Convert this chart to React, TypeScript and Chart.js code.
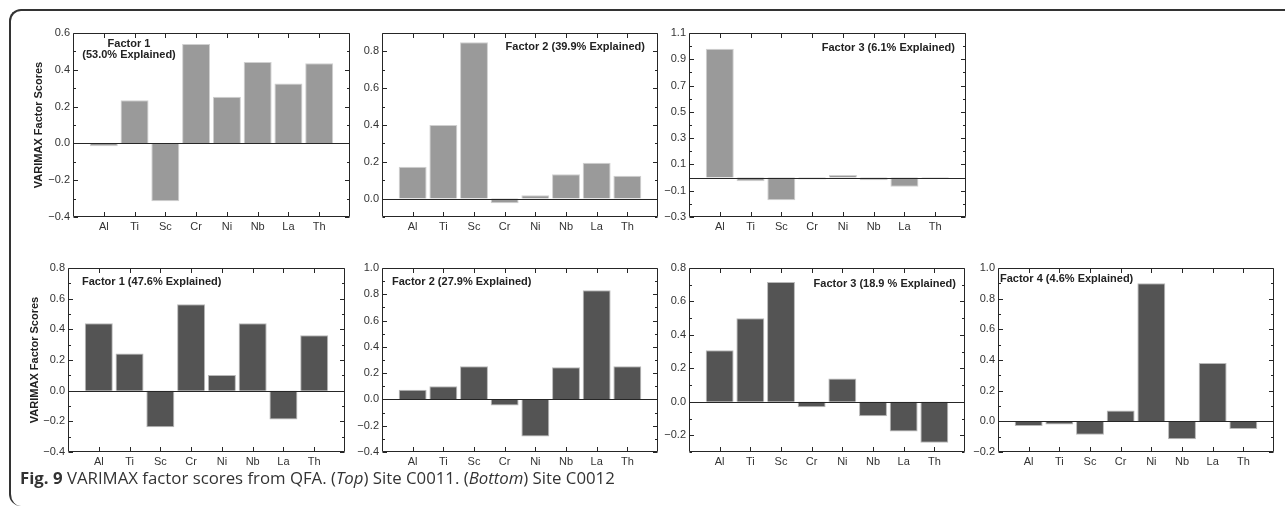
import React, { useEffect, useRef } from 'react';
import { Chart, registerables } from 'chart.js';

Chart.register(...registerables);

// ---------- data ----------
const categories = ['Al', 'Ti', 'Sc', 'Cr', 'Ni', 'Nb', 'La', 'Th'];

// Site C0011 (top row)
const siteC0011Factor1 = [-0.015, 0.235, -0.315, 0.54, 0.253, 0.443, 0.326, 0.435];
const siteC0011Factor2 = [0.173, 0.4, 0.85, -0.025, 0.018, 0.133, 0.195, 0.124];
const siteC0011Factor3 = [0.98, -0.028, -0.173, -0.015, 0.02, -0.02, -0.07, -0.005];

// Site C0012 (bottom row)
const siteC0012Factor1 = [0.44, 0.243, -0.238, 0.563, 0.102, 0.44, -0.188, 0.362];
const siteC0012Factor2 = [0.073, 0.1, 0.253, -0.046, -0.283, 0.245, 0.83, 0.253];
const siteC0012Factor3 = [0.308, 0.5, 0.716, -0.032, 0.139, -0.086, -0.177, -0.245];
const siteC0012Factor4 = [-0.03, -0.02, -0.087, 0.07, 0.9, -0.117, 0.38, -0.05];

// labelled y ticks
const yTicksC0011F1 = [-0.4, -0.2, 0.0, 0.2, 0.4, 0.6];
const yTicksC0011F2 = [0.0, 0.2, 0.4, 0.6, 0.8];
const yTicksC0011F3 = [-0.3, -0.1, 0.1, 0.3, 0.5, 0.7, 0.9, 1.1];
const yTicksC0012F1 = [-0.4, -0.2, 0.0, 0.2, 0.4, 0.6, 0.8];
const yTicksC0012F2 = [-0.4, -0.2, 0.0, 0.2, 0.4, 0.6, 0.8, 1.0];
const yTicksC0012F3 = [-0.2, 0.0, 0.2, 0.4, 0.6, 0.8];
const yTicksC0012F4 = [-0.2, 0.0, 0.2, 0.4, 0.6, 0.8, 1.0];

const yAxisTitle = 'VARIMAX Factor Scores';

// ---------- layout / style ----------
const FONT = '"Liberation Sans", Arial, Helvetica, sans-serif';
const PAD_L = 55;
const PAD_T = 12;
const PAD_R = 8;
const PAD_B = 26;

const TOP_FILL = '#9a9a9a';
const TOP_EDGE = '#d0d0d0';
const BOT_FILL = '#545454';
const BOT_EDGE = '#b8b8b8';

type Panel = {
  values: number[];
  ticks: number[];
  min: number;
  max: number;
  box: [number, number, number, number];
  fill: string;
  edge: string;
  yTitle: boolean;
  titlePad: number;
  note: string[];
  noteAlign: 'left' | 'right' | 'center';
  noteX: number;
  noteY: number;
};

const panels: Panel[] = [
  { values: siteC0011Factor1, ticks: yTicksC0011F1, min: -0.4, max: 0.6, box: [73, 33, 350, 217], fill: TOP_FILL, edge: TOP_EDGE, yTitle: true, titlePad: 14.4, note: ['Factor 1', '(53.0% Explained)'], noteAlign: 'center', noteX: 56, noteY: 11 },
  { values: siteC0011Factor2, ticks: yTicksC0011F2, min: -0.1, max: 0.9, box: [382, 33, 658, 217], fill: TOP_FILL, edge: TOP_EDGE, yTitle: false, titlePad: 0, note: ['Factor 2 (39.9% Explained)'], noteAlign: 'right', noteX: 13, noteY: 14 },
  { values: siteC0011Factor3, ticks: yTicksC0011F3, min: -0.3, max: 1.1, box: [689, 33, 966, 217], fill: TOP_FILL, edge: TOP_EDGE, yTitle: false, titlePad: 0, note: ['Factor 3 (6.1% Explained)'], noteAlign: 'right', noteX: 11, noteY: 15 },
  { values: siteC0012Factor1, ticks: yTicksC0012F1, min: -0.4, max: 0.8, box: [68, 268, 345, 452], fill: BOT_FILL, edge: BOT_EDGE, yTitle: true, titlePad: 15.4, note: ['Factor 1 (47.6% Explained)'], noteAlign: 'left', noteX: 14, noteY: 14 },
  { values: siteC0012Factor2, ticks: yTicksC0012F2, min: -0.4, max: 1.0, box: [382, 268, 658, 452], fill: BOT_FILL, edge: BOT_EDGE, yTitle: false, titlePad: 0, note: ['Factor 2 (27.9% Explained)'], noteAlign: 'left', noteX: 10, noteY: 14 },
  { values: siteC0012Factor3, ticks: yTicksC0012F3, min: -0.3, max: 0.8, box: [689, 268, 965, 452], fill: BOT_FILL, edge: BOT_EDGE, yTitle: false, titlePad: 0, note: ['Factor 3 (18.9 % Explained)'], noteAlign: 'right', noteX: 9, noteY: 16 },
  { values: siteC0012Factor4, ticks: yTicksC0012F4, min: -0.2, max: 1.0, box: [998, 268, 1274, 452], fill: BOT_FILL, edge: BOT_EDGE, yTitle: false, titlePad: 0, note: ['Factor 4 (4.6% Explained)'], noteAlign: 'left', noteX: 2, noteY: 11 },
];

const fmt = (v: number) => {
  const s = Math.abs(v).toFixed(1);
  return v < -1e-9 ? '\u2212' + s : s;
};

function makeFramePlugin(cfg: Panel) {
  return {
    id: 'frameTicks',
    afterDatasetsDraw(chart: any) {
      const { ctx, chartArea } = chart;
      const xs = chart.scales.x;
      const ys = chart.scales.y;
      const left = Math.round(chartArea.left) + 0.5;
      const right = Math.round(chartArea.right) - 0.5;
      const top = Math.round(chartArea.top) + 0.5;
      const bottom = Math.round(chartArea.bottom) - 0.5;
      ctx.save();
      ctx.strokeStyle = '#262626';
      ctx.lineWidth = 1;
      // zero line
      const y0 = Math.round(ys.getPixelForValue(0)) + 0.5;
      ctx.beginPath();
      ctx.moveTo(left, y0);
      ctx.lineTo(right, y0);
      ctx.stroke();
      // frame
      ctx.beginPath();
      ctx.rect(left, top, right - left, bottom - top);
      ctx.stroke();
      // y ticks (major at labelled ticks, minor every 0.1)
      const k0 = Math.round(cfg.min * 10);
      const k1 = Math.round(cfg.max * 10);
      ctx.beginPath();
      for (let k = k0; k <= k1; k++) {
        const v = k / 10;
        const major = cfg.ticks.some((t) => Math.abs(t - v) < 1e-6);
        const len = major ? 4.5 : 2.5;
        const p = Math.round(ys.getPixelForValue(v)) + 0.5;
        ctx.moveTo(left, p);
        ctx.lineTo(left + len, p);
        ctx.moveTo(right, p);
        ctx.lineTo(right - len, p);
      }
      // x ticks at categories
      categories.forEach((_, i) => {
        const p = Math.round(xs.getPixelForValue(i + 1)) + 0.5;
        ctx.moveTo(p, top);
        ctx.lineTo(p, top + 4.5);
        ctx.moveTo(p, bottom);
        ctx.lineTo(p, bottom - 4.5);
      });
      ctx.stroke();
      // annotation
      ctx.fillStyle = '#222';
      ctx.font = `bold 11px ${FONT}`;
      ctx.textBaseline = 'middle';
      ctx.textAlign = cfg.noteAlign;
      const nx =
        cfg.noteAlign === 'right'
          ? chartArea.right - cfg.noteX
          : chartArea.left + cfg.noteX;
      cfg.note.forEach((line, i) => {
        ctx.fillText(line, nx, chartArea.top + cfg.noteY + i * 11);
      });
      ctx.restore();
    },
  };
}

function PanelChart({ cfg }: { cfg: Panel }) {
  const ref = useRef<HTMLCanvasElement>(null);
  const [L, T, R, B] = cfg.box;
  const cw = R - L + PAD_L + PAD_R;
  const ch = B - T + PAD_T + PAD_B;

  useEffect(() => {
    const data = categories.map((c, i) => ({ x: i + 1, y: cfg.values[i] }));
    const chart = new Chart(ref.current as HTMLCanvasElement, {
      type: 'bar',
      data: {
        datasets: [
          {
            data: data as any,
            backgroundColor: cfg.fill,
            borderColor: cfg.edge,
            borderWidth: 1,
            categoryPercentage: 1,
            barPercentage: 0.91,
          },
        ],
      },
      options: {
        animation: false,
        responsive: false,
        devicePixelRatio: 1,
        layout: { padding: { top: PAD_T, right: PAD_R, left: 0, bottom: 0 } },
        plugins: { legend: { display: false }, tooltip: { enabled: false } },
        scales: {
          x: {
            type: 'linear',
            min: 0,
            max: 9,
            offset: false,
            afterBuildTicks: (s: any) => {
              s.ticks = categories.map((_, i) => ({ value: i + 1 }));
            },
            afterFit: (s: any) => {
              s.height = PAD_B;
            },
            grid: { display: false, drawTicks: false },
            border: { display: false },
            ticks: {
              autoSkip: false,
              maxRotation: 0,
              padding: 3,
              color: '#333',
              font: { family: FONT, size: 11 },
              callback: (v: any) => categories[Math.round(Number(v)) - 1] ?? '',
            },
          },
          y: {
            type: 'linear',
            min: cfg.min,
            max: cfg.max,
            afterBuildTicks: (s: any) => {
              s.ticks = cfg.ticks.map((v) => ({ value: v }));
            },
            afterFit: (s: any) => {
              s.width = PAD_L;
            },
            grid: { display: false, drawTicks: false },
            border: { display: false },
            ticks: {
              autoSkip: false,
              padding: 3,
              color: '#333',
              font: { family: FONT, size: 11 },
              callback: (v: any) => fmt(Number(v)),
            },
            title: {
              display: cfg.yTitle,
              text: yAxisTitle,
              color: '#222',
              font: { family: FONT, size: 11, weight: 'bold' },
              padding: { top: cfg.titlePad, bottom: 0 },
            },
          },
        },
      },
      plugins: [makeFramePlugin(cfg)],
    } as any);
    return () => chart.destroy();
  }, []);

  return (
    <canvas
      ref={ref}
      width={cw}
      height={ch}
      style={{ position: 'absolute', left: L - PAD_L, top: T - PAD_T, width: cw, height: ch }}
    />
  );
}

export default function App() {
  return (
    <div style={{ position: 'absolute', left: 0, top: 0, width: 1285, height: 508, overflow: 'hidden', background: '#fff' }}>
      <div
        style={{
          position: 'absolute',
          left: 9,
          top: 9,
          width: 1320,
          height: 497,
          borderTop: '2px solid #333',
          borderLeft: '2px solid #333',
          borderRadius: '12px 0 0 12px',
          boxSizing: 'border-box',
        }}
      />
      {panels.map((p, i) => (
        <PanelChart key={i} cfg={p} />
      ))}
      <div
        style={{
          position: 'absolute',
          left: 20,
          top: 466,
          whiteSpace: 'nowrap',
          fontFamily: '"Open Sans", "Noto Sans", sans-serif',
          fontSize: 16.8,
          lineHeight: '24px',
          color: '#333',
        }}
      >
        <b>Fig. 9</b> VARIMAX factor scores from QFA. (<i>Top</i>) Site C0011. (<i>Bottom</i>) Site C0012
      </div>
    </div>
  );
}
